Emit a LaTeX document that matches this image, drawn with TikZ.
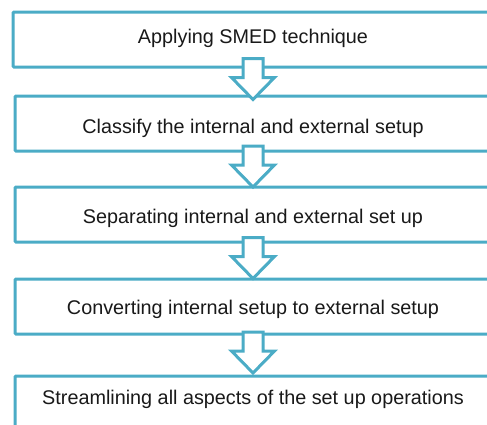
\documentclass[tikz,border=0pt]{standalone}
\usepackage{fontspec}
\setmainfont{Liberation Sans}
\usetikzlibrary{calc}
\definecolor{teal1}{RGB}{75,172,198}
\begin{document}
\begin{tikzpicture}[x=1pt,y=-1pt,
  box/.style={draw=teal1, line width=3pt, rounded corners=1pt, fill=white, inner sep=0pt},
  lbl/.style={anchor=base, inner sep=0pt, font=\fontsize{19.8}{23}\selectfont, text=black!90},
  blockarrow/.style={draw=teal1, fill=white, line width=3pt, line join=miter}]
\useasboundingbox (0,0) rectangle (487,424);
\clip (0,0) rectangle (487,424);
% boxes
\node[box, minimum width=487pt, minimum height=55pt] (b1) at (256.5,39.5) {};
\node[box, minimum width=485pt, minimum height=55pt] (b2) at (257.5,123.5) {};
\node[box, minimum width=485pt, minimum height=55pt] (b3) at (257.5,214.5) {};
\node[box, minimum width=485pt, minimum height=55pt] (b4) at (257.5,306.5) {};
\node[box, minimum width=485pt, minimum height=70pt] (b5) at (257.5,411) {};
% labels
\node[lbl] (t1) at (253,43) {Applying SMED technique};
\node[lbl] (t2) at (253,133) {Classify the internal and external setup};
\node[lbl] (t3) at (253,223) {Separating internal and external set up};
\node[lbl] (t4) at (253,314) {Converting internal setup to external setup};
\node[lbl] (t5) at (253,404) {Streamlining all aspects of the set up operations};
% arrows
\foreach \a/\b in {1/2,2/3,3/4,4/5}{
  \coordinate (m\a) at ($(t\a |- b\a.south)!0.5!(t\b |- b\b.north)$);
  \draw[blockarrow] ($(m\a)+(-10,-23)$) -- ($(m\a)+(-10,-4)$) -- ($(m\a)+(-21.5,-4)$)
    -- ($(m\a)+(0,18)$) -- ($(m\a)+(21.5,-4)$) -- ($(m\a)+(10,-4)$)
    -- ($(m\a)+(10,-23)$) -- cycle;
}
\end{tikzpicture}
\end{document}
